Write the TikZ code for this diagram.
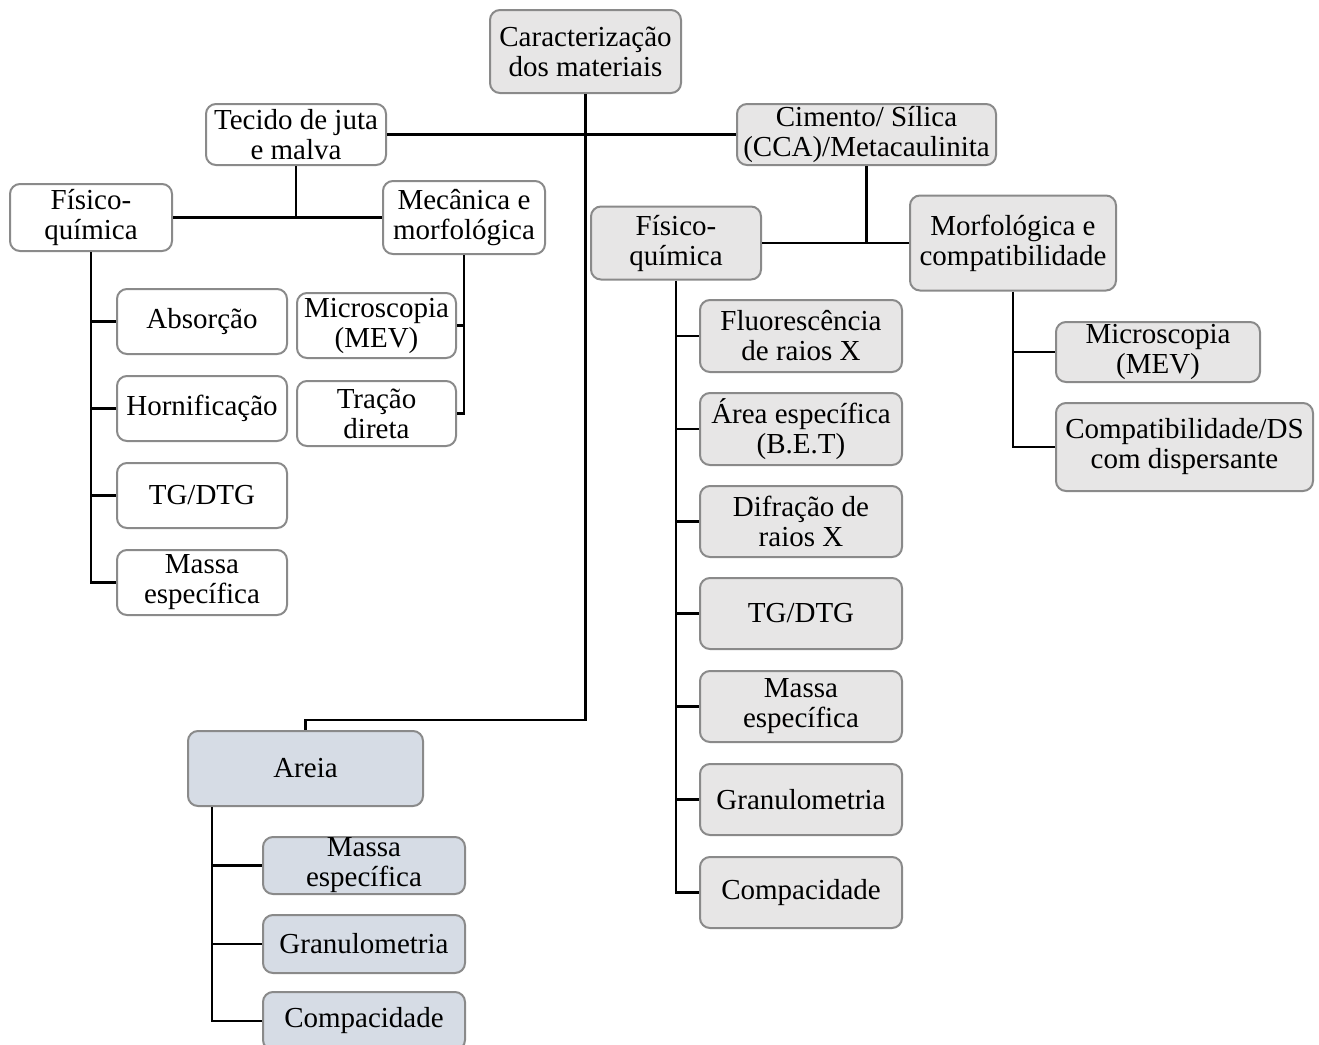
\documentclass[tikz,border=0pt]{standalone}
\usepackage{fontspec}
\setmainfont{Liberation Serif}
\definecolor{boxgray}{HTML}{E7E6E6}
\definecolor{boxblue}{HTML}{D6DCE5}
\definecolor{edgegray}{HTML}{8A8A8A}
\tikzset{
  box/.style={draw=edgegray, line width=1pt, rounded corners=5pt, inner sep=0pt,
    align=center, font=\fontsize{14.5}{15}\selectfont},
  wbox/.style={box, fill=white},
  gbox/.style={box, fill=boxgray},
  bbox/.style={box, fill=boxblue},
  sz/.style 2 args={minimum width=#1*0.5pt, minimum height=#2*0.5pt},
  link/.style={line width=1.25pt, black}
}
\begin{document}
\begin{tikzpicture}[x=0.5pt, y=-0.5pt]
\useasboundingbox (0,0) rectangle (1319,1045);
\clip (0,0) rectangle (1319,1045);

% root
\node[gbox, sz={191}{83}] (root) at (585.5,51.5) {Caracterização\\dos materiais};

% second level
\node[wbox, sz={180}{61}] (tecido) at (296,134.5) {Tecido de juta\\e malva};
\node[gbox, sz={259}{61}] (cimento) at (866.5,134.5) {Cimento/ Sílica\\(CCA)/Metacaulinita};
\node[bbox, sz={235}{75}] (areia) at (305.5,768.5) {Areia};

% fabric branch
\node[wbox, sz={162}{67}] (fq1) at (91,217.5) {Físico-\\química};
\node[wbox, sz={162}{73}] (mec) at (464,217.5) {Mecânica e\\morfológica};
\node[wbox, sz={170}{65}] (abs) at (202,321.5) {Absorção};
\node[wbox, sz={170}{65}] (horn) at (202,408.5) {Hornificação};
\node[wbox, sz={170}{65}] (tg1) at (202,495.5) {TG/DTG};
\node[wbox, sz={170}{65}] (massa1) at (202,582.5) {Massa\\específica};
\node[wbox, sz={159}{65}] (mev1) at (376.5,325.5) {Microscopia\\(MEV)};
\node[wbox, sz={159}{65}] (tracao) at (376.5,413.5) {Tração\\direta};

% binder branch
\node[gbox, sz={170}{73}] (fq2) at (676,243) {Físico-\\química};
\node[gbox, sz={206}{95}] (morf) at (1013,243) {Morfológica e\\compatibilidade};
\node[gbox, sz={202}{72}] (fluor) at (801,336) {Fluorescência\\de raios X};
\node[gbox, sz={202}{72}] (area) at (801,429) {Área específica\\(B.E.T)};
\node[gbox, sz={202}{71}] (difr) at (801,521.5) {Difração de\\raios X};
\node[gbox, sz={202}{71}] (tg2) at (801,613.5) {TG/DTG};
\node[gbox, sz={202}{71}] (massa2) at (801,706.5) {Massa\\específica};
\node[gbox, sz={202}{71}] (granu2) at (801,799.5) {Granulometria};
\node[gbox, sz={202}{71}] (compac2) at (801,892.5) {Compacidade};
\node[gbox, sz={204}{60}] (mev2) at (1158,352) {Microscopia\\(MEV)};
\node[gbox, sz={257}{88}] (compat) at (1184.5,447) {Compatibilidade/DS\\com dispersante};

% sand branch
\node[bbox, sz={202}{57}] (massa3) at (364,865.5) {Massa\\específica};
\node[bbox, sz={202}{58}] (granu3) at (364,944) {Granulometria};
\node[bbox, sz={202}{58}] (compac3) at (364,1021) {Compacidade};

% connectors
\coordinate (sandjoint) at (585.5,720);
\draw[link] (root.south) -- (sandjoint) -| (areia.north);
\draw[link] (tecido) -- (cimento);

\draw[link] (tecido.south) -- (tecido.south |- fq1.east);
\draw[link] (fq1) -- (mec);
\draw[link] (fq1.south) |- (massa1.west);
\foreach \c in {abs,horn,tg1} \draw[link] (fq1.south |- \c.west) -- (\c.west);
\draw[link] (mec.south) |- (tracao.east);
\draw[link] (mec.south |- mev1.east) -- (mev1.east);

\draw[link] (cimento.south) -- (cimento.south |- fq2.east);
\draw[link] (fq2) -- (morf);
\draw[link] (fq2.south) |- (compac2.west);
\foreach \c in {fluor,area,difr,tg2,massa2,granu2} \draw[link] (fq2.south |- \c.west) -- (\c.west);
\draw[link] (morf.south) |- (compat.west);
\draw[link] (morf.south |- mev2.west) -- (mev2.west);

\coordinate (sandtrunk) at ([xshift=12.5pt]areia.south west);
\draw[link] (sandtrunk) |- (compac3.west);
\foreach \c in {massa3,granu3} \draw[link] (sandtrunk |- \c.west) -- (\c.west);
\end{tikzpicture}
\end{document}
